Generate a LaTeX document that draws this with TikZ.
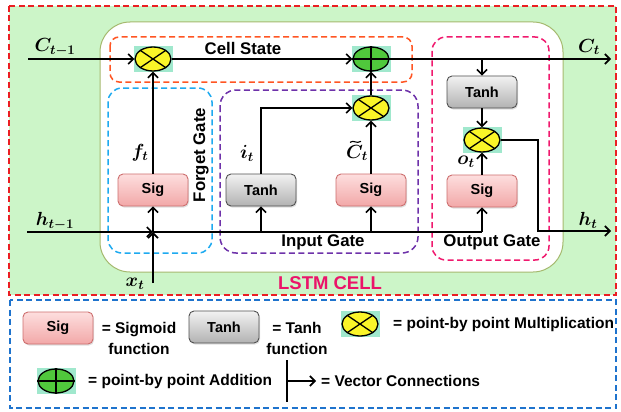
\RequirePackage{fix-cm}
\documentclass[tikz,border=0pt]{standalone}
\usepackage{fontspec}
\setmainfont{Liberation Sans}
\usepackage{amsmath}
\usetikzlibrary{arrows.meta,shapes.geometric,shadows,calc}

\definecolor{panelgreen}{RGB}{204,245,200}
\definecolor{framered}{RGB}{235,30,35}
\definecolor{legendblue}{RGB}{30,115,205}
\definecolor{cellborder}{RGB}{165,185,110}
\definecolor{statered}{RGB}{255,85,35}
\definecolor{forgetblue}{RGB}{30,170,240}
\definecolor{inputpurple}{RGB}{110,50,170}
\definecolor{outputpink}{RGB}{240,25,110}
\definecolor{celltitle}{RGB}{235,20,105}
\definecolor{sigtop}{RGB}{253,222,222}
\definecolor{sigbot}{RGB}{242,168,168}
\definecolor{sigedge}{RGB}{205,110,110}
\definecolor{tanhtop}{RGB}{242,242,242}
\definecolor{tanhbot}{RGB}{178,178,178}
\definecolor{tanhedge}{RGB}{80,80,80}
\definecolor{mint}{RGB}{160,232,205}
\definecolor{multyellow}{RGB}{250,245,40}
\definecolor{addgreen}{RGB}{80,200,60}

\begin{document}
\begin{tikzpicture}[x=1pt,y=-1pt,
  conn/.style={line width=1.6pt, draw=black},
  arr/.style={conn, -{Straight Barb[length=5pt,width=10pt,line width=1.6pt]}},
  gatebox/.style={line width=1.5pt, dash pattern=on 6pt off 3.5pt},
  gatelabel/.style={font=\fontsize{16.8}{19}\selectfont\bfseries, inner sep=0},
  mlabel/.style={font=\fontsize{19}{21}\selectfont, inner sep=0},
  legendtext/.style={font=\fontsize{15.5}{21}\selectfont\bfseries, inner sep=0},
  fnbox/.style={rectangle, rounded corners=5pt, line width=0.9pt,
    minimum width=70pt, minimum height=32pt, inner sep=0,
    font=\fontsize{14.5}{16}\selectfont\bfseries,
    drop shadow={shadow xshift=1pt, shadow yshift=-1.5pt, opacity=0.25}},
  sigbox/.style={fnbox, draw=sigedge, top color=sigtop, bottom color=sigbot},
  tanhbox/.style={fnbox, draw=tanhedge, top color=tanhtop, bottom color=tanhbot},
  mintbg/.style={rectangle, fill=mint, minimum width=39pt, minimum height=26pt, inner sep=0},
  opbase/.style={ellipse, draw=black, line width=1.3pt, minimum width=36pt, minimum height=24pt, inner sep=0},
  mult/.style={opbase, fill=multyellow},
  addop/.style={opbase, fill=addgreen},
  opline/.style={line width=1.3pt, draw=black}
]
\useasboundingbox (0,0) rectangle (621,412);

% ---------- cell panel and gate regions ----------
\filldraw[fill=panelgreen, draw=framered, line width=1.6pt, dash pattern=on 6pt off 3.5pt]
  (9,6) rectangle (616,295);
\draw[fill=white, draw=cellborder, line width=1pt, rounded corners=30pt]
  (100,22) rectangle (563,272);
\draw[gatebox, draw=statered, rounded corners=9pt] (110,37) rectangle (412,82);
\draw[gatebox, draw=forgetblue, rounded corners=14pt] (108,88) rectangle (212,253);
\draw[gatebox, draw=inputpurple, rounded corners=16pt] (220,90) rectangle (418,253);
\draw[gatebox, draw=outputpink, rounded corners=14pt] (432,37) rectangle (549,260);

\node[gatelabel] (cslbl) at (243,48) {Cell State};
\node[gatelabel, rotate=90] (fglbl) at (201,155) {Forget Gate};
\node[gatelabel] (iglbl) at (323,242) {Input Gate};
\node[gatelabel] (oglbl) at (492,242) {Output Gate};
\node[font=\fontsize{18.5}{21}\selectfont\bfseries, text=celltitle, inner sep=0]
  (celltitle) at (330,283) {LSTM CELL};

% ---------- point-wise operators ----------
\node[mintbg] (m1bg) at (153,59) {};
\node[mult] (m1) at (153,59) {};
\node[mintbg] (addbg) at (371,59) {};
\node[addop] (add) at (371,59) {};
\node[mintbg] (m2bg) at (371,108) {};
\node[mult] (m2) at (371,108) {};
\node[mintbg] (m3bg) at (482,140) {};
\node[mult] (m3) at (482,140) {};
\foreach \m in {m1,m2,m3}{
  \draw[opline] (\m.north west) -- (\m.south east) (\m.north east) -- (\m.south west);
}
\draw[opline] (add.north) -- (add.south) (add.west) -- (add.east);

% ---------- activation boxes ----------
\node[sigbox] (sigF) at (153,190) {Sig};
\node[tanhbox] (tanhI) at (261,190) {Tanh};
\node[sigbox] (sigI) at (371,190) {Sig};
\node[tanhbox] (tanhO) at (482,92) {Tanh};
\node[sigbox] (sigO) at (482,191) {Sig};

% ---------- free ends ----------
\coordinate (cin) at (28,59);
\coordinate (cout) at (611,59);
\coordinate (hin) at (27,232);
\coordinate (jn) at (153,232);
\coordinate (hend) at (482,232);
\coordinate (xin) at (153,283);
\coordinate (hturn) at (538,231);
\coordinate (hout) at (611,231);

% ---------- connections ----------
\draw[arr] (cin) -- (m1.west);
\draw[arr] (m1.east) -- (add.west);
\draw[arr] (add.east) -- (cout);
\draw[arr] (tanhO.north |- cout) -- (tanhO.north);
\draw[arr] (tanhO.south) -- (m3.north);
\draw[arr] (sigO.north) -- (m3.south);
\draw[arr] (m3.east) -| (hturn) -- (hout);
\draw[arr] (hin) -- (jn);
\draw[conn] (jn) -- (hend);
\draw[arr] (xin) -- (jn);
\draw[arr] (jn) -- (sigF.south);
\draw[arr] (sigF.north) -- (m1.south);
\draw[arr] (tanhI.south |- jn) -- (tanhI.south);
\draw[arr] (sigI.south |- jn) -- (sigI.south);
\draw[arr] (sigO.south |- jn) -- (sigO.south);
\draw[arr] (tanhI.north) |- (m2.west);
\draw[arr] (sigI.north) -- (m2.south);
\draw[arr] (m2.north) -- (add.south);

% ---------- signal labels ----------
\node[mlabel] (lcin) at (55,47) {$\boldsymbol{C_{t-1}}$};
\node[mlabel] (lcout) at (589,47) {$\boldsymbol{C_t}$};
\node[mlabel] (lhin) at (55,221) {$\boldsymbol{h_{t-1}}$};
\node[mlabel] (lhout) at (588,220) {$\boldsymbol{h_t}$};
\node[mlabel] (lxt) at (135,284) {$\boldsymbol{x_t}$};
\node[mlabel] (lft) at (140,153) {$\boldsymbol{f_t}$};
\node[mlabel] (lit) at (247,153) {$\boldsymbol{i_t}$};
\node[mlabel] (lct) at (357,153) {$\boldsymbol{C_t}$};
% wide tilde over the candidate-state symbol
\draw[line width=1.1pt] ([xshift=-7pt,yshift=2.5pt]lct.north)
  .. controls ([xshift=-3pt,yshift=5.5pt]lct.north) and ([xshift=-1pt,yshift=0.5pt]lct.north)
  .. ([xshift=4pt,yshift=3.5pt]lct.north);
\node[mlabel] (lot) at (466,162) {$\boldsymbol{o_t}$};

% ---------- legend ----------
\draw[line width=1.6pt, draw=legendblue, dash pattern=on 6pt off 3.5pt]
  (10,300) rectangle (616,408);
\node[sigbox] (lgsig) at (58,328) {Sig};
\node[legendtext, align=center] (lgsigtxt) at (139,338) {= Sigmoid\\function};
\node[tanhbox] (lgtanh) at (224,327) {Tanh};
\node[legendtext, align=center] (lgtanhtxt) at (297,338) {= Tanh\\function};
\node[mintbg] (lgmultbg) at (360,324) {};
\node[mult] (lgmult) at (360,324) {};
\draw[opline] (lgmult.north west) -- (lgmult.south east) (lgmult.north east) -- (lgmult.south west);
\node[legendtext, anchor=west] (lgmulttxt) at (393,324) {= point-by point Multiplication};
\node[mintbg] (lgaddbg) at (56,381) {};
\node[addop] (lgadd) at (56,381) {};
\draw[opline] (lgadd.north) -- (lgadd.south) (lgadd.west) -- (lgadd.east);
\node[legendtext, anchor=west] (lgaddtxt) at (88,381) {= point-by point Addition};
\coordinate (vtop) at (287,360);
\coordinate (vbot) at (287,402);
\coordinate (vmid) at (287,381);
\coordinate (vtip) at (316,381);
\draw[conn, line width=1.3pt] (vtop) -- (vbot);
\draw[arr, line width=1.3pt] (vmid) -- (vtip);
\node[legendtext, anchor=west] (lgvectxt) at (321,381) {= Vector Connections};
\end{tikzpicture}
\end{document}
